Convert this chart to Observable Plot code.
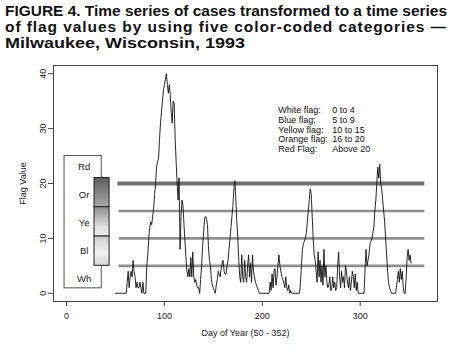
<!DOCTYPE html>
<html><head><meta charset="utf-8">
<script src="https://cdn.jsdelivr.net/npm/d3@7"></script>
<script src="https://cdn.jsdelivr.net/npm/@observablehq/plot@0.6"></script>
<style>
html,body{margin:0;padding:0;background:#fff;}
#wrap{width:455px;height:364px;overflow:hidden;background:#fff;}
#head{display:block;}
#head text{font-family:"Liberation Sans",Arial,Helvetica,sans-serif;font-weight:bold;font-size:15.5px;fill:#111;}
#chart svg{display:block;}
</style></head><body><div id="wrap">
<svg id="head" width="455" height="56">
 <text x="5" y="16" textLength="442" lengthAdjust="spacingAndGlyphs">FIGURE 4. Time series of cases transformed to a time series</text>
 <text x="5" y="32" textLength="441" lengthAdjust="spacing">of flag values by using five color-coded categories —</text>
 <text x="5" y="48" textLength="240" lengthAdjust="spacingAndGlyphs">Milwaukee, Wisconsin, 1993</text>
</svg>
<div id="chart"></div></div>
<script>
// ---- data ----
const seriesDays = [50,61,62,63,64,65,66,67,68,69,70,71,72,73,74,75,76,77,78,79,81,82,83,84,85,86,87,88,89,90,91,92,93,94,95,96,97,98,99,100,101,102,103,104,105,106,107,108,109,110,111,112,113,114,115,116,117,118,119,120,121,122,123,124,125,126,127,128,129,130,131,132,133,134,135,136,137,138,139,140,141,142,143,144,145,146,147,148,149,150,151,152,153,154,155,156,157,158,159,160,161,162,163,164,165,166,167,168,169,170,171,172,173,174,175,176,177,178,179,180,181,182,183,184,185,186,187,188,189,190,191,192,193,194,195,196,197,207,208,209,210,211,212,213,214,215,216,217,218,219,220,221,222,223,224,225,226,227,228,229,230,238,239,240,241,242,243,244,245,246,247,248,249,250,251,252,253,254,255,256,257,258,259,260,261,262,263,264,265,266,267,268,269,270,271,272,273,274,275,276,277,278,279,280,281,282,283,284,285,286,287,288,289,290,291,292,293,294,295,296,297,298,304,305,306,307,308,309,310,311,312,313,314,315,316,317,318,319,320,321,322,323,324,325,326,327,328,329,330,331,332,336,337,338,339,340,341,342,343,344,345,346,347,348,349,350,351,352];
const seriesValues = [0,0,2,4,1,3,4,3,6,4,3,1,2,1,1,2,1,0,2,0,0,5,7,10,12,13,12.5,14,15.5,18,20,23,24,24.5,28,31,33,35,37,38,39,40,38,36.5,38,36,33,31,35,34.5,28,24,20,17,21,8,14,17,16,12.5,9.5,6.5,4,3,4.5,3,6.5,3,7.5,3,2,2.5,1.5,1,1,0,2.5,5,8.5,11,13.5,14,13.5,12.5,8.5,6,5,2.5,1.5,1,0.5,0,1.5,2.5,4,3.5,3,4.5,5.5,6,4,3.5,3.5,5,6,8,10,12,14,16,19,20.5,17,13,10,6,3,2,7,3,2,6,3,2,5,7,3,5.5,2,7,4,3,2,1.5,1,0.5,0,0,2,0.5,3.5,1,4,4.5,1.5,3,5,7,5,4,3,2.5,2,1,3,1,0.5,1.5,0,0.5,0,0,2,5,8,9,9.5,10,11,13,15,17,19,18,14,10,7,6,4,2,7.5,3,6,2,5,1.5,8,3,5,2,1,1.5,3,0.5,1,3,1,2,0.5,1,5,7.5,3,1,4,2,3,1,5,4,2,1,3,0.5,2,4,3,1,3.5,0.5,2,0,0,4.5,8,5,6,7,9,9.5,10,11,12,15,17,20,23,21,23.5,20,19,17,15,13,10,7,4,2,1,0.5,0,0,1,2.5,4,2,4.5,2.5,4,1,0,0,3,6.5,8,6,7,5.5];
const xTicks = [0, 100, 200, 300];
const yTicks = [0, 10, 20, 30, 40];
const thresholds = [20, 15, 10, 5];
const flagCodes = ["Rd", "Or", "Ye", "Bl", "Wh"];
const flagNames = ["White flag:", "Blue flag:", "Yellow flag:", "Orange flag:", "Red Flag:"];
const flagRanges = ["0 to 4", "5 to 9", "10 to 15", "16 to 20", "Above 20"];
const barBreaks = [21, 15.67, 10.33, 5];

// ---- layout (chart coordinates) ----
const L = {
  box: {x1: -2, x2: 36, y1: 0.9, y2: 25},
  codeX: 18, codeY: [23.1, 17.9, 12.8, 7.7, 2.6],
  bar: {x1: 28.6, x2: 44},
  ruleX1: [52.5, 53.5, 54, 53.5], ruleX2: 366,
  keyX1: 216.3, keyX2: 271.5, keyY: [33.3, 31.6, 29.8, 28.0, 26.3]
};

const series = seriesDays.map((d, i) => ({day: d, value: seriesValues[i]}));
const bands = barBreaks.slice(0, 3).map((top, i) => ({top, bottom: barBreaks[i + 1], i}));
const fonts = "'Liberation Sans', Arial, Helvetica, sans-serif";

const plot = Plot.plot({
  width: 455, height: 308,
  marginLeft: 53, marginRight: 18, marginTop: 9, marginBottom: 63,
  style: {fontFamily: fonts, fontSize: "9px", background: "white", color: "#222", overflow: "visible"},
  x: {domain: [-13.3, 379]},
  y: {domain: [-1.5, 41.5]},
  marks: [
    Plot.frame({stroke: "#444", strokeWidth: 1}),
    Plot.axisX({ticks: xTicks, tickSize: 5, tickPadding: 6, label: "Day of Year (50 - 352)", labelAnchor: "center", labelOffset: 34, labelArrow: false, stroke: "#444"}),
    Plot.axisY({ticks: yTicks, tickSize: 5, tickPadding: 3, tickRotate: -90, label: "Flag Value", labelAnchor: "center", labelOffset: 34, labelArrow: false, stroke: "#444"}),
    ...thresholds.map((t, i) => Plot.ruleY([t], {
      x1: L.ruleX1[i], x2: L.ruleX2,
      stroke: i === 0 ? "#6f6f6f" : "#8f8f8f",
      strokeWidth: i === 0 ? 4 : 2.6
    })),
    Plot.rect([L.box], {x1: "x1", x2: "x2", y1: "y1", y2: "y2", fill: "white", stroke: "#555", strokeWidth: 1}),
    Plot.text(flagCodes, {x: L.codeX, y: (d, i) => L.codeY[i], text: d => d, fontSize: 9.5, fill: "#222"}),
    ...bands.map(b => Plot.rect([b], {x1: L.bar.x1, x2: L.bar.x2, y1: "bottom", y2: "top", fill: `url(#flaggrad${b.i})`, stroke: "#222", strokeWidth: 1})),
    Plot.line(series, {x: "day", y: "value", stroke: "#111", strokeWidth: 0.9}),
    Plot.text(flagNames, {x: L.keyX1, y: (d, i) => L.keyY[i], text: d => d, textAnchor: "start", fontSize: 9, fill: "#111"}),
    Plot.text(flagRanges, {x: L.keyX2, y: (d, i) => L.keyY[i], text: d => d, textAnchor: "start", fontSize: 9, fill: "#111"})
  ]
});

// gradients for the flag bar
const stops = [
  [["0%", "#5c5c5c"], ["100%", "#a9a9a9"]],
  [["0%", "#8e8e8e"], ["70%", "#e2e2e2"], ["100%", "#ececec"]],
  [["0%", "#cdcdcd"], ["55%", "#f0f0f0"], ["100%", "#d6d6d6"]]
];
const ns = "http://www.w3.org/2000/svg";
const defs = document.createElementNS(ns, "defs");
stops.forEach((s, i) => {
  const g = document.createElementNS(ns, "linearGradient");
  g.setAttribute("id", "flaggrad" + i);
  g.setAttribute("x1", "0"); g.setAttribute("y1", "0"); g.setAttribute("x2", "0"); g.setAttribute("y2", "1");
  s.forEach(([o, c]) => {
    const st = document.createElementNS(ns, "stop");
    st.setAttribute("offset", o); st.setAttribute("stop-color", c);
    g.appendChild(st);
  });
  defs.appendChild(g);
});
plot.insertBefore(defs, plot.firstChild);
document.getElementById("chart").appendChild(plot);
</script>
</body></html>
